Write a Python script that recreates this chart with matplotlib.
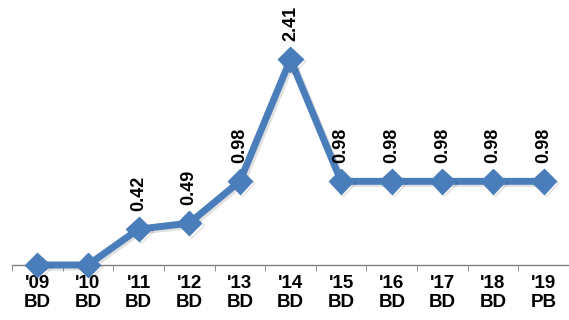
import matplotlib.pyplot as plt
import matplotlib.patheffects as pe
import numpy as np

years = ["'09", "'10", "'11", "'12", "'13", "'14", "'15", "'16", "'17", "'18", "'19"]
kinds = ["BD", "BD", "BD", "BD", "BD", "BD", "BD", "BD", "BD", "BD", "PB"]
values = [0, 0, 0.42, 0.49, 0.98, 2.41, 0.98, 0.98, 0.98, 0.98, 0.98]
show_label = [False, False, True, True, True, True, True, True, True, True, True]

x = np.arange(len(values))
fig = plt.figure(figsize=(5.69, 3.2), dpi=100)
ax = fig.add_axes([0.021, 0.172, 0.979, 0.8])

shadow = [pe.SimpleLineShadow(offset=(1.5, -1.5), alpha=0.12), pe.Normal()]
ax.plot(x, values, color='#4A7EBB', linewidth=5, marker='D', markersize=12.5,
        solid_joinstyle='miter', path_effects=shadow, clip_on=False, zorder=3)

for xi, v, show in zip(x, values, show_label):
    if show:
        ax.annotate('{:.2f}'.format(v), (xi, v), xytext=(0, 13), textcoords='offset points',
                    rotation=90, ha='center', va='bottom', fontsize=13, fontweight='bold',
                    family='Liberation Sans')

ax.set_xlim(-0.5, len(values) - 0.5)
ax.set_ylim(0, 3)
ax.set_xticks(x)
ax.set_xticklabels([y + '\n' + k for y, k in zip(years, kinds)], fontsize=13.5,
                   fontweight='bold', family='Liberation Sans', linespacing=1.2)
ax.set_xticks(np.arange(-0.5, len(values)), minor=True)
ax.tick_params(axis='x', which='major', length=0, pad=7)
ax.tick_params(axis='x', which='minor', length=4, color='#808080', direction='out')
ax.set_yticks([])
for s in ['top', 'right', 'left']:
    ax.spines[s].set_visible(False)
ax.spines['bottom'].set_color('#808080')
ax.spines['bottom'].set_linewidth(1)

plt.savefig('out.png', dpi=100)
